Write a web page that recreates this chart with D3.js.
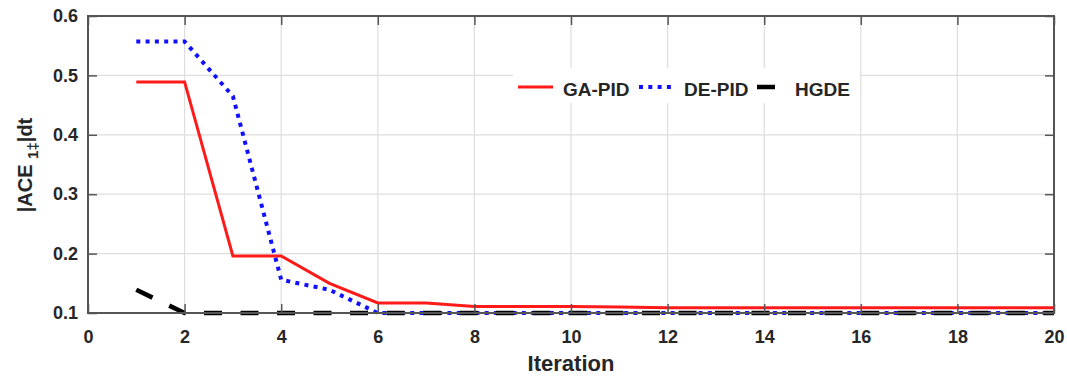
<!DOCTYPE html>
<html>
<head>
<meta charset="utf-8">
<script src="https://cdn.jsdelivr.net/npm/d3@7"></script>
<style>
  html, body { margin: 0; padding: 0; background: #fff; }
  svg { display: block; font-family: Arial, "Liberation Sans", sans-serif; }
</style>
</head>
<body>
<svg id="chart" width="1067" height="376"></svg>
<script>
// Convergence of the integral of |ACE| per iteration for three tuning methods
const iterations = [1, 2, 3, 4, 5, 6, 7, 8, 9, 10, 11, 12, 13, 14, 15, 16, 17, 18, 19, 20];
const gaPid = [0.489, 0.489, 0.196, 0.196, 0.150, 0.117, 0.117, 0.111, 0.111, 0.111,
               0.110, 0.109, 0.109, 0.109, 0.109, 0.109, 0.109, 0.109, 0.109, 0.109];
const dePid = [0.557, 0.557, 0.465, 0.156, 0.139, 0.100, 0.100, 0.100, 0.100, 0.100,
               0.100, 0.100, 0.100, 0.100, 0.100, 0.100, 0.100, 0.100, 0.100, 0.100];
const hgde  = [0.139, 0.100, 0.100, 0.100, 0.100, 0.100, 0.100, 0.100, 0.100, 0.100,
               0.100, 0.100, 0.100, 0.100, 0.100, 0.100, 0.100, 0.100, 0.100, 0.100];
const xTicks = [0, 2, 4, 6, 8, 10, 12, 14, 16, 18, 20];
const yTicks = [0.1, 0.2, 0.3, 0.4, 0.5, 0.6];
const seriesNames = ["GA-PID", "DE-PID", "HGDE"];

const svg = d3.select("#chart");
const plotL = 88, plotR = 1054, plotT = 16, plotB = 313;

const x = d3.scaleLinear().domain([0, 20]).range([plotL, plotR]);
const y = d3.scaleLinear().domain([0.1, 0.6]).range([plotB, plotT]);

const textColor = "#262626";
const axisColor = "#555";

// grid
const grid = svg.append("g");
grid.selectAll(".vg").data(xTicks.slice(1, -1)).join("line")
  .attr("x1", d => x(d)).attr("x2", d => x(d))
  .attr("y1", plotT).attr("y2", plotB)
  .attr("stroke", "#dedede").attr("stroke-width", 1.2);
grid.selectAll(".hg").data(yTicks.slice(1, -1)).join("line")
  .attr("y1", d => y(d)).attr("y2", d => y(d))
  .attr("x1", plotL).attr("x2", plotR)
  .attr("stroke", "#dedede").attr("stroke-width", 1.2);

// axes with inward ticks on all four sides
const tickLen = 9;
const xAxisB = d3.axisBottom(x).tickValues(xTicks).tickSize(-tickLen).tickPadding(17).tickFormat(d3.format("d"));
const xAxisT = d3.axisTop(x).tickValues(xTicks).tickSize(-tickLen).tickFormat("");
const yAxisL = d3.axisLeft(y).tickValues(yTicks).tickSize(-tickLen).tickPadding(10).tickFormat(d3.format(".1f"));
const yAxisR = d3.axisRight(y).tickValues(yTicks).tickSize(-tickLen).tickFormat("");

function styleAxis(g) {
  g.select(".domain").remove();
  g.selectAll(".tick line").attr("stroke", axisColor).attr("stroke-width", 1.5);
  g.selectAll(".tick text")
    .attr("fill", textColor)
    .style("font-size", "18px")
    .style("font-weight", "bold")
    .style("font-family", "Arial, 'Liberation Sans', sans-serif");
}

// plot lines
const line = d3.line().x((d, i) => x(iterations[i])).y(d => y(d));
const plot = svg.append("g");
plot.append("path").datum(gaPid).attr("d", line)
  .attr("fill", "none").attr("stroke", "#ff1a1a").attr("stroke-width", 3);
plot.append("path").datum(dePid).attr("d", line)
  .attr("fill", "none").attr("stroke", "#1010ff").attr("stroke-width", 4)
  .attr("stroke-dasharray", "4,5.3");
plot.append("path").datum(hgde).attr("d", line)
  .attr("fill", "none").attr("stroke", "#000").attr("stroke-width", 4.5)
  .attr("stroke-dasharray", "18,18.5");

svg.append("g").attr("transform", `translate(0,${plotB})`).call(xAxisB).call(styleAxis);
svg.append("g").attr("transform", `translate(0,${plotT})`).call(xAxisT).call(styleAxis);
svg.append("g").attr("transform", `translate(${plotL},0)`).call(yAxisL).call(styleAxis);
svg.append("g").attr("transform", `translate(${plotR},0)`).call(yAxisR).call(styleAxis);

// axes box
svg.append("rect")
  .attr("x", plotL).attr("y", plotT)
  .attr("width", plotR - plotL).attr("height", plotB - plotT)
  .attr("fill", "none").attr("stroke", axisColor).attr("stroke-width", 2);

// legend
const legend = svg.append("g");
legend.append("rect").attr("x", 513).attr("y", 68).attr("width", 347).attr("height", 35).attr("fill", "#fff");
const legendItems = [
  { name: seriesNames[0], x1: 518, x2: 553, tx: 563, color: "#ff1a1a", w: 3, dash: null },
  { name: seriesNames[1], x1: 639, x2: 672, tx: 684, color: "#1010ff", w: 4, dash: "4,5.3" },
  { name: seriesNames[2], x1: 757, x2: 775, tx: 795, color: "#000", w: 4.5, dash: null }
];
legendItems.forEach(it => {
  legend.append("line").attr("x1", it.x1).attr("x2", it.x2).attr("y1", 87).attr("y2", 87)
    .attr("stroke", it.color).attr("stroke-width", it.w)
    .attr("stroke-dasharray", it.dash);
  legend.append("text").attr("x", it.tx).attr("y", 96)
    .attr("fill", textColor).style("font-size", "19px").style("font-weight", "bold")
    .text(it.name);
});

// axis labels
svg.append("text").attr("x", (plotL + plotR) / 2).attr("y", 371)
  .attr("text-anchor", "middle").attr("fill", textColor)
  .style("font-size", "22px").style("font-weight", "bold")
  .text("Iteration");

const yl = svg.append("text")
  .attr("transform", "translate(32,165) rotate(-90)")
  .attr("text-anchor", "middle").attr("fill", textColor)
  .style("font-size", "20px").style("font-weight", "bold");
yl.append("tspan").text("|ACE ");
yl.append("tspan").attr("dy", 6).style("font-size", "15px").text("1\u2021");
yl.append("tspan").attr("dy", -6).text("|dt");
</script>
</body>
</html>
